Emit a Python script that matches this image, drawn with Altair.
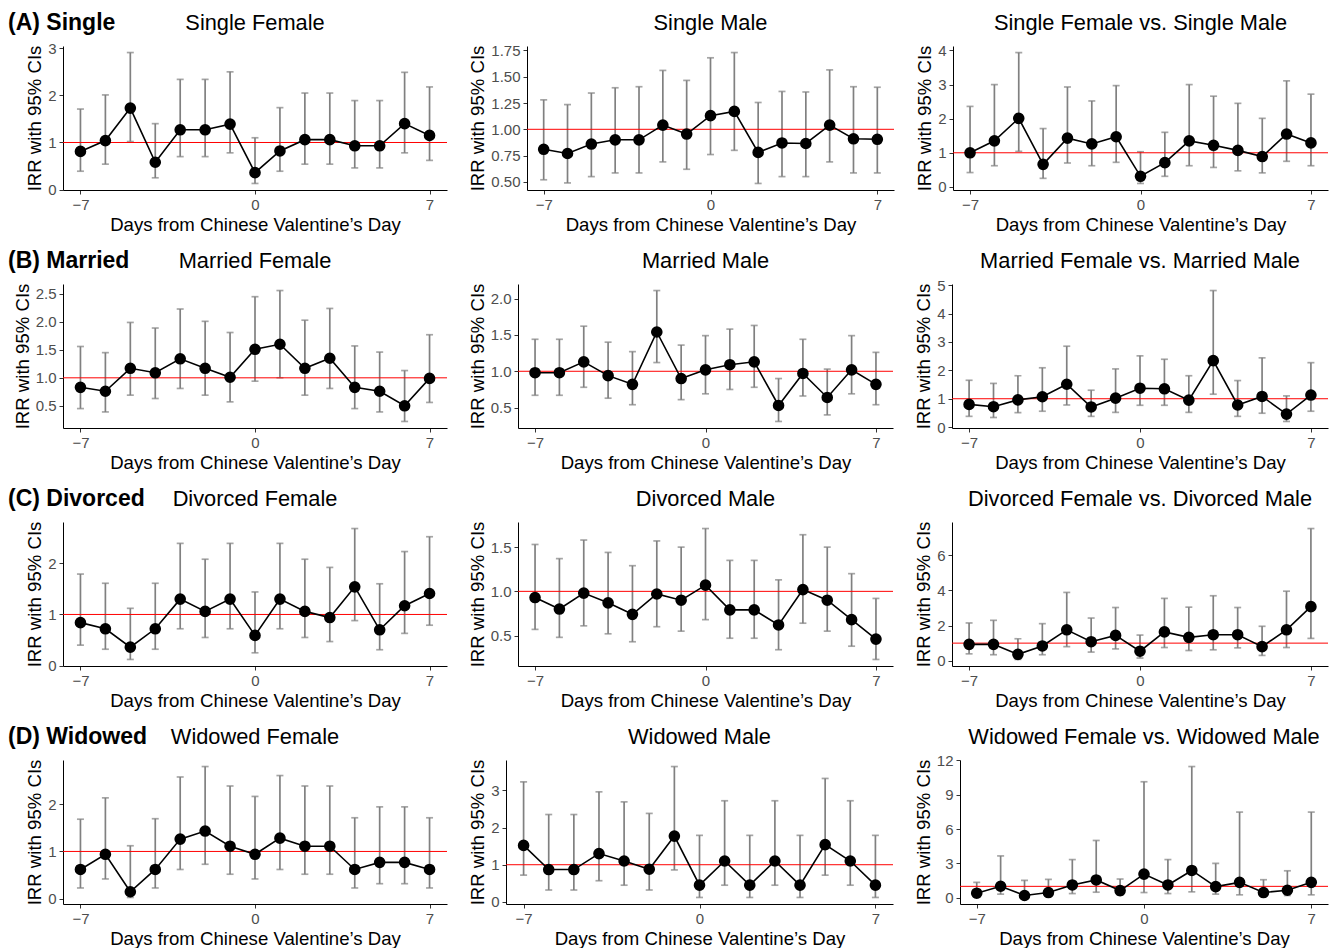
import altair as alt
import pandas as pd

FONT = "Liberation Sans"

days = list(range(-7, 8))

row_labels = ["(A) Single", "(B) Married", "(C) Divorced", "(D) Widowed"]
titles = [
    ["Single Female", "Single Male", "Single Female vs. Single Male"],
    ["Married Female", "Married Male", "Married Female vs. Married Male"],
    ["Divorced Female", "Divorced Male", "Divorced Female vs. Divorced Male"],
    ["Widowed Female", "Widowed Male", "Widowed Female vs. Widowed Male"],
]
x_title = "Days from Chinese Valentine\u2019s Day"
y_title = "IRR with 95% CIs"
x_ticks = [-7, 0, 7]

# ---- (A) Single ----
sf_irr = [0.81, 1.04, 1.73, 0.58, 1.27, 1.27, 1.39, 0.36, 0.82, 1.06, 1.06, 0.93, 0.93, 1.40, 1.15]
sf_lo = [0.39, 0.54, 1.02, 0.25, 0.70, 0.70, 0.78, 0.13, 0.39, 0.54, 0.54, 0.46, 0.46, 0.78, 0.62]
sf_hi = [1.71, 2.01, 2.91, 1.40, 2.34, 2.34, 2.50, 1.10, 1.74, 2.05, 2.05, 1.89, 1.89, 2.49, 2.18]

sm_irr = [0.81, 0.77, 0.86, 0.90, 0.90, 1.04, 0.955, 1.13, 1.17, 0.78, 0.87, 0.865, 1.04, 0.91, 0.905]
sm_lo = [0.52, 0.49, 0.55, 0.585, 0.585, 0.69, 0.62, 0.76, 0.80, 0.485, 0.55, 0.55, 0.69, 0.585, 0.585]
sm_hi = [1.28, 1.235, 1.345, 1.395, 1.405, 1.56, 1.465, 1.68, 1.73, 1.255, 1.36, 1.355, 1.565, 1.405, 1.40]

sfm_irr = [1.00, 1.35, 2.01, 0.66, 1.43, 1.26, 1.47, 0.31, 0.71, 1.35, 1.22, 1.07, 0.89, 1.55, 1.29]
sfm_lo = [0.42, 0.62, 1.04, 0.25, 0.70, 0.62, 0.72, 0.10, 0.31, 0.62, 0.57, 0.47, 0.41, 0.75, 0.62]
sfm_hi = [2.36, 3.00, 3.94, 1.71, 2.93, 2.52, 2.97, 1.03, 1.60, 3.00, 2.66, 2.45, 2.01, 3.11, 2.72]

# ---- (B) Married ----
mf_irr = [0.83, 0.76, 1.17, 1.09, 1.34, 1.17, 1.01, 1.51, 1.60, 1.17, 1.35, 0.83, 0.76, 0.50, 0.99]
mf_lo = [0.45, 0.39, 0.69, 0.63, 0.81, 0.69, 0.57, 0.94, 1.00, 0.69, 0.81, 0.45, 0.39, 0.22, 0.56]
mf_hi = [1.56, 1.45, 1.99, 1.89, 2.23, 2.01, 1.81, 2.45, 2.56, 2.03, 2.24, 1.57, 1.46, 1.13, 1.77]

mm_irr = [0.98, 0.98, 1.13, 0.94, 0.82, 1.54, 0.90, 1.02, 1.09, 1.13, 0.53, 0.97, 0.64, 1.02, 0.82]
mm_lo = [0.67, 0.67, 0.78, 0.63, 0.54, 1.12, 0.61, 0.69, 0.75, 0.78, 0.31, 0.66, 0.40, 0.69, 0.54]
mm_hi = [1.44, 1.44, 1.62, 1.40, 1.27, 2.11, 1.36, 1.49, 1.58, 1.63, 0.90, 1.44, 1.03, 1.49, 1.26]

mfm_irr = [0.80, 0.72, 0.96, 1.07, 1.51, 0.71, 1.02, 1.37, 1.35, 0.95, 2.34, 0.78, 1.08, 0.46, 1.13]
mfm_lo = [0.38, 0.34, 0.51, 0.56, 0.78, 0.38, 0.52, 0.77, 0.77, 0.52, 1.16, 0.38, 0.49, 0.20, 0.56]
mfm_hi = [1.65, 1.54, 1.81, 2.09, 2.85, 1.30, 2.05, 2.51, 2.39, 1.81, 4.81, 1.64, 2.44, 1.10, 2.27]

# ---- (C) Divorced ----
df_irr = [0.84, 0.72, 0.36, 0.72, 1.30, 1.06, 1.30, 0.59, 1.30, 1.06, 0.94, 1.54, 0.70, 1.17, 1.41]
df_lo = [0.40, 0.32, 0.12, 0.32, 0.72, 0.55, 0.72, 0.25, 0.72, 0.55, 0.47, 0.88, 0.31, 0.63, 0.79]
df_hi = [1.79, 1.61, 1.12, 1.61, 2.39, 2.08, 2.39, 1.44, 2.39, 2.08, 1.92, 2.68, 1.60, 2.23, 2.52]

dm_irr = [0.93, 0.80, 0.98, 0.87, 0.74, 0.97, 0.90, 1.07, 0.79, 0.79, 0.62, 1.02, 0.90, 0.68, 0.46]
dm_lo = [0.57, 0.48, 0.61, 0.52, 0.43, 0.60, 0.55, 0.68, 0.47, 0.47, 0.34, 0.64, 0.55, 0.38, 0.23]
dm_hi = [1.53, 1.37, 1.58, 1.44, 1.29, 1.57, 1.50, 1.71, 1.35, 1.35, 1.13, 1.64, 1.50, 1.20, 0.92]

dfm_irr = [0.93, 0.93, 0.36, 0.84, 1.76, 1.08, 1.44, 0.54, 1.64, 1.33, 1.48, 1.48, 0.80, 1.76, 3.08]
dfm_lo = [0.39, 0.34, 0.07, 0.34, 0.80, 0.49, 0.67, 0.15, 0.75, 0.58, 0.62, 0.73, 0.30, 0.75, 1.27]
dfm_hi = [2.15, 2.30, 1.25, 2.11, 3.89, 2.43, 3.03, 1.46, 3.55, 3.05, 3.70, 3.03, 1.96, 3.96, 7.53]

# ---- (D) Widowed ----
wf_irr = [0.62, 0.94, 0.15, 0.62, 1.26, 1.43, 1.11, 0.94, 1.28, 1.11, 1.11, 0.62, 0.77, 0.77, 0.62]
wf_lo = [0.23, 0.42, 0.03, 0.23, 0.62, 0.73, 0.52, 0.42, 0.62, 0.52, 0.52, 0.23, 0.32, 0.32, 0.23]
wf_hi = [1.68, 2.13, 1.12, 1.69, 2.57, 2.79, 2.38, 2.16, 2.60, 2.38, 2.38, 1.71, 1.94, 1.94, 1.71]

wm_irr = [1.52, 0.87, 0.87, 1.30, 1.10, 0.88, 1.77, 0.45, 1.10, 0.45, 1.10, 0.45, 1.54, 1.10, 0.45]
wm_lo = [0.72, 0.32, 0.32, 0.57, 0.45, 0.32, 0.86, 0.12, 0.45, 0.12, 0.45, 0.12, 0.72, 0.45, 0.12]
wm_hi = [3.23, 2.35, 2.35, 2.96, 2.69, 2.38, 3.64, 1.79, 2.72, 1.79, 2.72, 1.79, 3.32, 2.72, 1.79]

wfm_irr = [0.40, 1.01, 0.20, 0.46, 1.12, 1.56, 0.63, 2.07, 1.12, 2.39, 0.98, 1.35, 0.46, 0.66, 1.35]
wfm_lo = [0.06, 0.32, 0.03, 0.12, 0.37, 0.49, 0.23, 0.46, 0.37, 0.52, 0.32, 0.26, 0.12, 0.20, 0.26]
wfm_hi = [1.35, 3.66, 1.53, 1.61, 3.34, 5.01, 1.64, 10.14, 3.34, 11.47, 3.00, 7.49, 1.58, 2.36, 7.49]

# y-axis tick labels per panel
y_ticks = [
    [[0, 1, 2, 3], [0.5, 0.75, 1.0, 1.25, 1.5, 1.75], [0, 1, 2, 3, 4]],
    [[0.5, 1.0, 1.5, 2.0, 2.5], [0.5, 1.0, 1.5, 2.0], [0, 1, 2, 3, 4, 5]],
    [[0, 1, 2], [0.5, 1.0, 1.5], [0, 2, 4, 6]],
    [[0, 1, 2], [0, 1, 2, 3], [0, 3, 6, 9, 12]],
]
y_formats = [
    ["d", ".2f", "d"],
    [".1f", ".1f", "d"],
    ["d", ".1f", "d"],
    ["d", "d", "d"],
]

series = [
    [(sf_irr, sf_lo, sf_hi), (sm_irr, sm_lo, sm_hi), (sfm_irr, sfm_lo, sfm_hi)],
    [(mf_irr, mf_lo, mf_hi), (mm_irr, mm_lo, mm_hi), (mfm_irr, mfm_lo, mfm_hi)],
    [(df_irr, df_lo, df_hi), (dm_irr, dm_lo, dm_hi), (dfm_irr, dfm_lo, dfm_hi)],
    [(wf_irr, wf_lo, wf_hi), (wm_irr, wm_lo, wm_hi), (wfm_irr, wfm_lo, wfm_hi)],
]

# layout (plot-area widths per panel, row-label offset)
widths = [
    [384, 367, 375],
    [384, 375, 376],
    [384, 375, 376],
    [384, 387, 368],
]
LABEL_DX = -55
PLOT_H = 144
TITLE_Y = -16


def panel(title, irr, lo, hi, yticks, yfmt, width, row_label=None):
    d = pd.DataFrame({"day": days, "irr": irr, "lo": lo, "hi": hi})
    ymin, ymax = min(lo), max(hi)
    pad = (ymax - ymin) * 0.05
    xs = alt.Scale(domain=[-7.7, 7.7], nice=False, zero=False)
    ys = alt.Scale(domain=[ymin - pad, ymax + pad], nice=False, zero=False)
    xax = alt.Axis(values=x_ticks, title=x_title, labelFlush=False, labelOverlap=False)
    yax = alt.Axis(values=yticks, format=yfmt, title=y_title, labelFlush=False, labelOverlap=False)
    xenc = alt.X("day:Q", scale=xs, axis=xax)
    base = alt.Chart(d)
    err = base.mark_errorbar(
        color="#808080", thickness=1.7, ticks={"size": 7, "thickness": 1.7, "color": "#808080"}
    ).encode(x=xenc, y=alt.Y("lo:Q", scale=ys, axis=yax), y2="hi:Q")
    ref = alt.Chart(pd.DataFrame({"ref": [1.0]})).mark_rule(color="#ff0000", strokeWidth=1).encode(
        y=alt.Y("ref:Q", scale=ys, axis=yax)
    )
    line = base.mark_line(color="black", strokeWidth=1.6).encode(
        x=xenc, y=alt.Y("irr:Q", scale=ys, axis=yax)
    )
    pts = base.mark_circle(size=135, color="black", opacity=1).encode(
        x=xenc, y=alt.Y("irr:Q", scale=ys, axis=yax)
    )
    ttl = alt.Chart(pd.DataFrame({"t": [title]})).mark_text(
        font=FONT, fontSize=21.8, align="center", baseline="alphabetic", color="black"
    ).encode(text="t:N", x=alt.value(width / 2), y=alt.value(TITLE_Y))
    layers = [err, ref, line, pts, ttl]
    if row_label is not None:
        lab = alt.Chart(pd.DataFrame({"lab": [row_label]})).mark_text(
            font=FONT, fontWeight="bold", fontSize=23, align="left", baseline="alphabetic", color="black"
        ).encode(text="lab:N", x=alt.value(LABEL_DX), y=alt.value(TITLE_Y))
        layers.append(lab)
    return alt.layer(*layers).properties(width=width, height=PLOT_H)


rows = []
for r in range(4):
    cells = []
    for c in range(3):
        irr, lo, hi = series[r][c]
        cells.append(
            panel(
                titles[r][c], irr, lo, hi, y_ticks[r][c], y_formats[r][c], widths[r][c],
                row_label=row_labels[r] if c == 0 else None,
            )
        )
    rows.append(alt.hconcat(*cells, spacing=20))

chart = (
    alt.vconcat(*rows, spacing=16)
    .properties(padding={"top": 4, "left": 0, "right": 0, "bottom": 0})
    .configure_view(stroke=None)
    .configure_axis(
        grid=False,
        domainColor="black",
        domainWidth=1,
        tickColor="#333333",
        tickSize=4,
        tickWidth=1,
        labelColor="#4d4d4d",
        labelFont=FONT,
        labelFontSize=15,
        labelPadding=3,
        titleFont=FONT,
        titleFontSize=18.6,
        titleFontWeight="normal",
        titleColor="black",
        titlePadding=3,
    )
)

chart.save("out.html", embed_options={"renderer": "svg", "actions": False})
